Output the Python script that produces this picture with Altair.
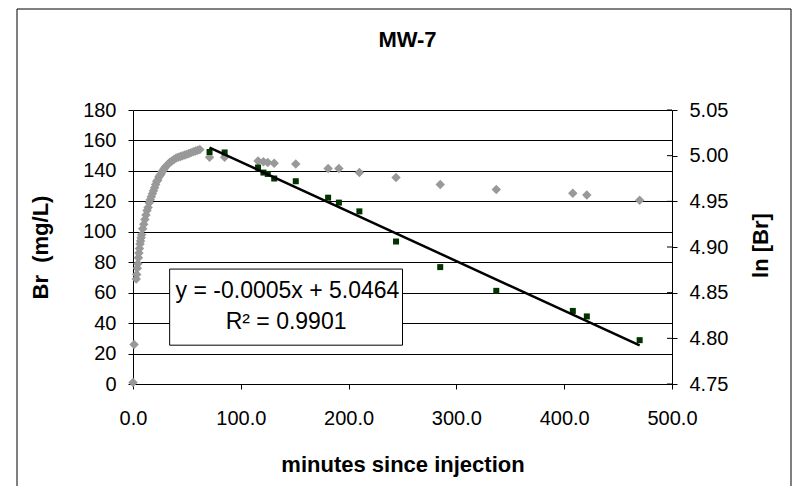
import altair as alt
import pandas as pd

# ---- data ----
# gray diamonds: Br (mg/L) vs minutes since injection
br_min = [0, 1, 3, 3.5, 4, 4.5, 5, 5.5, 6, 6.5, 7, 7.5, 8, 9, 10, 11, 12, 13, 14, 15,
          16, 17, 18, 19, 20, 21, 22, 23, 24, 25, 26, 27, 28, 29, 30, 32, 34, 36, 38, 40,
          42, 44, 46, 48, 50, 52, 54, 56, 58, 60, 62,
          71, 85, 116, 121, 125, 131, 151, 181, 191, 210, 244, 285, 337, 408, 421, 470]
br_val = [1, 26, 69, 72, 76, 79, 83, 86, 89, 92, 94, 96, 98, 102, 105, 108, 111, 114, 116, 119,
          121, 123, 125, 127, 129, 131, 133, 134, 136, 137, 138, 139.5, 140.5, 141.5, 142.5, 144, 145.5, 146.5, 147.5, 148.5,
          149, 149.5, 150, 150.5, 151, 151.5, 152, 152.5, 153, 153.5, 154,
          149, 149, 146.5, 146, 145.5, 145, 144.6, 141.5, 141.5, 139, 135.6, 131, 127.7, 125.3, 124.2, 120.7]

# green squares: ln [Br] vs minutes
ln_min = [71, 85, 116, 121, 125, 131, 151, 181, 191, 210, 244, 285, 337, 408, 421, 470]
ln_val = [5.004, 5.0035, 4.987, 4.9815, 4.980, 4.975, 4.972, 4.954, 4.9486, 4.939,
          4.906, 4.878, 4.852, 4.830, 4.824, 4.798]

x_ticks = [0, 100, 200, 300, 400, 500]
left_ticks = [0, 20, 40, 60, 80, 100, 120, 140, 160, 180]
right_ticks = [4.75, 4.80, 4.85, 4.90, 4.95, 5.00, 5.05]

title_text = "MW-7"
eq_line1 = "y = -0.0005x + 5.0464"
eq_line2 = "R² = 0.9901"
# annotation box, in data units (minutes, Br)
box = {"x0": 34, "x1": 250, "y0": 25.5, "y1": 75.5}

FONT = "Liberation Sans"
W, H = 539, 274

df_br = pd.DataFrame({"t": br_min, "br": br_val})
df_ln = pd.DataFrame({"t": ln_min, "ln": ln_val})
df_rt = pd.DataFrame({"ln": right_ticks})
df_box = pd.DataFrame([box])
df_t1 = pd.DataFrame({"t": [39.5], "br": [61], "label": [eq_line1]})
df_t2 = pd.DataFrame({"t": [142], "br": [41], "label": [eq_line2]})

xscale = alt.Scale(domain=[0, 500], nice=False, zero=False)
xaxis = alt.Axis(values=x_ticks, format=".1f", title="minutes since injection",
                 grid=False, tickSize=5, labelPadding=19, titleY=80, titleBaseline="middle",
                 labelFlush=False, labelOverlap=False,
                 domainColor="#000", tickColor="#000")
yl_scale = alt.Scale(domain=[0, 180], nice=False, zero=False)
yl_axis = alt.Axis(values=left_ticks, title="Br\u00a0 (mg/L)", grid=True, gridColor="#000",
                   gridWidth=1, tickSize=5, labelPadding=12, titleX=-93, titleY=137,
                   titleAngle=270, titleBaseline="middle", titleAlign="center",
                   labelFlush=False, labelOverlap=False,
                   domainColor="#000", tickColor="#000")
yr_scale = alt.Scale(domain=[4.75, 5.05], nice=False, zero=False)
yr_axis = alt.Axis(values=right_ticks, format=".2f", title="ln [Br]", grid=False,
                   tickSize=5, labelPadding=12, titleX=88, titleY=135, titleAngle=270,
                   titleBaseline="middle", titleAlign="center",
                   labelFlush=False, labelOverlap=False,
                   domainColor="#000", tickColor="#000")

frame = alt.Chart(pd.DataFrame({"a": [0]})).mark_rect(
    fill=None, stroke="#000", strokeWidth=1
).encode(x=alt.value(-116), x2=alt.value(W + 119), y=alt.value(-101), y2=alt.value(H + 130))

title = alt.Chart(pd.DataFrame({"label": [title_text]})).mark_text(
    font=FONT, fontSize=22, fontWeight="bold", align="center", baseline="middle", color="#000"
).encode(x=alt.value(W / 2 + 5), y=alt.value(-70), text="label:N")

X = alt.X("t:Q", scale=xscale, axis=xaxis)
YL = alt.Y("br:Q", scale=yl_scale, axis=yl_axis)

gray = alt.Chart(df_br).mark_point(
    shape="diamond", filled=True, size=90, color="#999999", opacity=1
).encode(x=X, y=YL)

boxmark = alt.Chart(df_box).mark_rect(fill="white", stroke="#000", strokeWidth=1).encode(
    x=alt.X("x0:Q", scale=xscale, axis=xaxis), x2="x1:Q",
    y=alt.Y("y0:Q", scale=yl_scale, axis=yl_axis), y2="y1:Q"
)

txt1 = alt.Chart(df_t1).mark_text(
    font=FONT, fontSize=23, align="left", baseline="middle", color="#000"
).encode(x=X, y=YL, text="label:N")
txt2 = alt.Chart(df_t2).mark_text(
    font=FONT, fontSize=23, align="center", baseline="middle", color="#000"
).encode(x=X, y=YL, text="label:N")

left = alt.layer(gray, boxmark, txt1, txt2)

YR = alt.Y("ln:Q", scale=yr_scale, axis=yr_axis)
# inner half of the right axis' cross tick marks
inner_ticks = alt.Chart(df_rt).mark_rule(color="#000", strokeWidth=1).encode(
    y=YR, x=alt.value(W - 5), x2=alt.value(W)
)
green = alt.Chart(df_ln).mark_point(
    shape="square", filled=True, size=36, color="#003300", opacity=1
).encode(x=X, y=YR)
trend = alt.Chart(df_ln).transform_regression("t", "ln", method="linear").mark_line(
    color="#000", strokeWidth=2.5
).encode(x=X, y=YR)
right = alt.layer(inner_ticks, green, trend)

chart = alt.layer(frame, title, left, right).resolve_scale(y="independent").properties(
    width=W, height=H,
    autosize=alt.AutoSizeParams(type="none"),
    padding={"left": 125, "top": 102, "right": 120, "bottom": 102},
).configure_axis(
    labelFont=FONT, labelFontSize=20, labelColor="#000",
    titleFont=FONT, titleFontSize=22, titleFontWeight="bold", titleColor="#000",
    domainWidth=1, tickWidth=1,
).configure_view(stroke=None)

chart.save("out.html", embed_options={"renderer": "svg", "actions": False})
